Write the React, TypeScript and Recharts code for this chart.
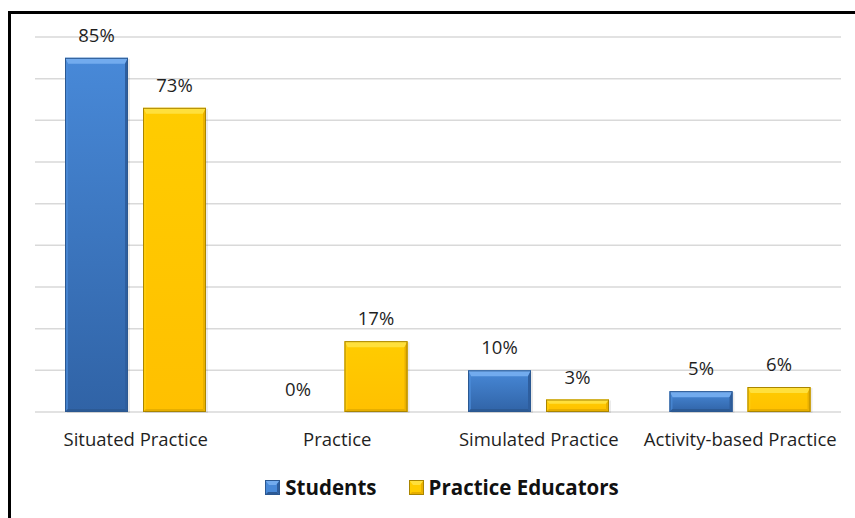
import React from "react";
import { BarChart, Bar, XAxis, YAxis, CartesianGrid, LabelList, Legend } from "recharts";

const categories = ["Situated Practice", "Practice", "Simulated Practice", "Activity-based Practice"];
const students = [85, 0, 10, 5];
const educators = [73, 17, 3, 6];
const yTicks = [0, 10, 20, 30, 40, 50, 60, 70, 80, 90];
const seriesNames = ["Students", "Practice Educators"];

const data = categories.map((name, i) => ({ name, students: students[i], educators: educators[i] }));

const FONT = "'Open Sans', 'Noto Sans', sans-serif";

const PALETTE: Record<string, { g1: string; g2: string; top: string; left: string; right: string; bottom: string; stroke: string }> = {
  blue: { g1: "#4889D8", g2: "#3063A6", top: "#72ABEE", left: "#4C8CD8", right: "#2E5E9E", bottom: "#2C5A95", stroke: "#2B5891" },
  gold: { g1: "#FFCC00", g2: "#FFC000", top: "#FFE03C", left: "#FFCF10", right: "#E9B000", bottom: "#E6AE00", stroke: "#A98500" },
};

const Bevel = (props: any) => {
  const { x, y, width, height, tone, index } = props;
  if (!height || height <= 0 || !width) return null;
  const p = PALETTE[tone];
  const b = Math.min(6, height / 3, width / 4);
  const bb = Math.min(3, height / 4);
  const s = Math.min(3, width / 6);
  const X = x, Y = y, W = width, H = height;
  const gid = `grad-${tone}-${index}`;
  return (
    <g>
      <defs>
        <linearGradient id={gid} x1="0" y1="0" x2="0" y2="1">
          <stop offset="0%" stopColor={p.g1} />
          <stop offset="100%" stopColor={p.g2} />
        </linearGradient>
      </defs>
      <rect x={X + 2} y={Y + 1} width={W} height={H} fill="#000" opacity={0.08} />
      <rect x={X} y={Y} width={W} height={H} fill={`url(#${gid})`} />
      <polygon points={`${X},${Y} ${X + W},${Y} ${X + W - s},${Y + b} ${X + s},${Y + b}`} fill={p.top} />
      <polygon points={`${X},${Y} ${X + s},${Y + b} ${X + s},${Y + H - bb} ${X},${Y + H}`} fill={p.left} opacity={0.7} />
      <polygon points={`${X + W},${Y} ${X + W},${Y + H} ${X + W - s},${Y + H - bb} ${X + W - s},${Y + b}`} fill={p.right} />
      <polygon points={`${X},${Y + H} ${X + s},${Y + H - bb} ${X + W - s},${Y + H - bb} ${X + W},${Y + H}`} fill={p.bottom} />
      <rect x={X + 0.5} y={Y + 0.5} width={W - 1} height={H - 1} fill="none" stroke={p.stroke} strokeWidth={1} />
    </g>
  );
};

const LegendIcon = ({ tone }: { tone: string }) => {
  const p = PALETTE[tone];
  return (
    <svg width={15} height={15} style={{ marginRight: 5 }}>
      <rect x={0} y={0} width={15} height={15} fill={p.g1} />
      <polygon points="0,0 15,0 11,5 4,5" fill={p.top} />
      <polygon points="15,0 15,15 12,12 12,4" fill={p.right} />
      <polygon points="0,15 3,12 12,12 15,15" fill={p.bottom} />
      <rect x={0.5} y={0.5} width={14} height={14} fill="none" stroke={p.stroke} />
    </svg>
  );
};

const LegendContent = () => (
  <div style={{ display: "flex", justifyContent: "center", alignItems: "center", height: 50, fontFamily: FONT, fontWeight: 700, fontSize: 20.5, color: "#111", paddingLeft: 8 }}>
    <span style={{ display: "flex", alignItems: "center", marginRight: 32 }}>
      <LegendIcon tone="blue" />
      {seriesNames[0]}
    </span>
    <span style={{ display: "flex", alignItems: "center" }}>
      <LegendIcon tone="gold" />
      {seriesNames[1]}
    </span>
  </div>
);

export default function App() {
  return (
    <div
      style={{
        position: "absolute",
        left: 8,
        top: 11,
        width: 847,
        height: 507,
        borderTop: "3px solid #000",
        borderLeft: "3px solid #000",
        boxSizing: "border-box",
        background: "#fff",
      }}
    >
      <BarChart
        width={844}
        height={504}
        data={data}
        margin={{ top: 23, right: 14, left: 24, bottom: 6 }}
        barCategoryGap="15%"
        barGap={15}
      >
        <CartesianGrid vertical={false} stroke="#D9D9D9" strokeWidth={1.5} />
        <YAxis hide domain={[0, 90]} ticks={yTicks} />
        <XAxis
          dataKey="name"
          axisLine={false}
          tickLine={false}
          height={50}
          tickMargin={15}
          tick={{ fill: "#1f1f1f", fontSize: 18.5, fontFamily: FONT }}
          interval={0}
        />
        <Legend verticalAlign="bottom" height={50} content={<LegendContent />} />
        <Bar dataKey="students" name={seriesNames[0]} barSize={63} isAnimationActive={false} shape={(p: any) => <Bevel {...p} tone="blue" />}>
          <LabelList dataKey="students" position="top" offset={16} formatter={(v: any) => `${v}%`} style={{ fill: "#1f1f1f", fontSize: 18.5, fontFamily: FONT }} />
        </Bar>
        <Bar dataKey="educators" name={seriesNames[1]} barSize={63} isAnimationActive={false} shape={(p: any) => <Bevel {...p} tone="gold" />}>
          <LabelList dataKey="educators" position="top" offset={16} formatter={(v: any) => `${v}%`} style={{ fill: "#1f1f1f", fontSize: 18.5, fontFamily: FONT }} />
        </Bar>
      </BarChart>
    </div>
  );
}
